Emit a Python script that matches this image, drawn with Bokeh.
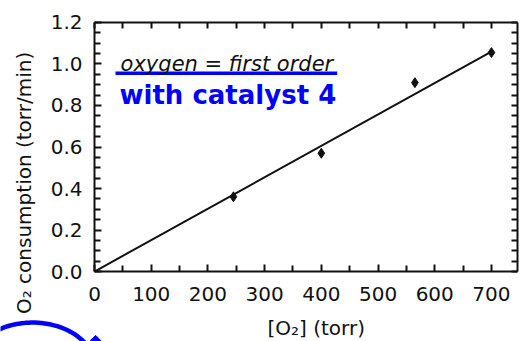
import numpy as np
from bokeh.plotting import figure
from bokeh.models import (Range1d, LinearAxis, Label, PolyAnnotation,
                          FixedTicker, PrintfTickFormatter)
from bokeh.embed import file_html
from bokeh.resources import INLINE

# measured O2 consumption vs O2 pressure
o2_torr = [245, 400, 565, 700]
rate = [0.36, 0.57, 0.91, 1.055]

# first-order fit through the origin
fit_x = [0, 700]
fit_y = [0, 1.06]

# axis ticks
x_major = [0, 100, 200, 300, 400, 500, 600, 700]
x_minor = [50, 150, 250, 350, 450, 550, 650]
y_major = [0.0, 0.2, 0.4, 0.6, 0.8, 1.0, 1.2]
y_minor = [0.05, 0.1, 0.15, 0.25, 0.3, 0.35, 0.45, 0.5, 0.55, 0.65, 0.7, 0.75,
           0.85, 0.9, 0.95, 1.05, 1.1, 1.15]

X_END, Y_END = 746, 1.2

FONT = "DejaVu Sans"
INK = "#111111"
BLUE = "#0000ff"

# the frame fills the canvas; the plot box is drawn by four axes pinned
# to the edges of the data area, leaving room for titles and notes
p = figure(width=524, height=341,
           x_range=Range1d(-165.8, 758.3), y_range=Range1d(-0.3373, 1.306),
           output_backend="svg", toolbar_location=None, min_border=0)
p.background_fill_color = "white"
p.border_fill_color = "white"
p.outline_line_color = None
p.grid.visible = False


def style_axis(ax, loc, bounds):
    ax.fixed_location = loc
    ax.bounds = bounds
    ax.axis_line_color = INK
    ax.axis_line_width = 2
    ax.major_tick_in = 7
    ax.major_tick_out = 0
    ax.minor_tick_in = 6
    ax.minor_tick_out = 0
    ax.major_tick_line_color = INK
    ax.major_tick_line_width = 2
    ax.minor_tick_line_color = INK
    ax.minor_tick_line_width = 2
    ax.major_label_text_font = FONT
    ax.major_label_text_color = INK
    ax.major_label_text_font_size = "20px"


p.xaxis.ticker = FixedTicker(ticks=x_major, minor_ticks=x_minor)
p.yaxis.ticker = FixedTicker(ticks=y_major, minor_ticks=y_minor)
p.yaxis.formatter = PrintfTickFormatter(format="%.1f")
style_axis(p.xaxis[0], 0, (0, X_END))
style_axis(p.yaxis[0], 0, (0, Y_END))
p.xaxis.major_label_standoff = 15
p.yaxis.major_label_standoff = 12

# mirrored tick marks on the top and right edges (no labels)
top_axis = LinearAxis(ticker=FixedTicker(ticks=[], minor_ticks=sorted(x_major + x_minor)))
style_axis(top_axis, Y_END, (0, X_END))
p.add_layout(top_axis, "above")
right_axis = LinearAxis(ticker=FixedTicker(ticks=[], minor_ticks=sorted(y_major + y_minor)))
style_axis(right_axis, X_END, (0, Y_END))
p.add_layout(right_axis, "right")

# fit line and data points
p.line(fit_x, fit_y, line_color=INK, line_width=2)
p.scatter(o2_torr, rate, marker="diamond", size=10, color=INK)

# axis titles
p.add_layout(Label(x=-125, y=0.427, text="O₂ consumption (torr/min)", angle=np.pi / 2,
                   text_align="center", text_baseline="middle",
                   text_font=FONT, text_font_size="20px", text_color=INK))
p.add_layout(Label(x=391, y=-0.27, text="[O₂] (torr)",
                   text_align="center", text_baseline="middle",
                   text_font=FONT, text_font_size="20px", text_color=INK))

# in-plot notes
p.add_layout(Label(x=46, y=1.0, text="oxygen = first order",
                   text_font=FONT, text_font_style="italic", text_font_size="21px",
                   text_color=INK, text_baseline="alphabetic"))
p.segment(x0=[37], y0=[0.955], x1=[428], y1=[0.955], line_color=BLUE, line_width=3.5)
p.add_layout(Label(x=44, y=0.851, text="with catalyst 4",
                   text_font=FONT, text_font_style="bold", text_font_size="26px",
                   text_color=BLUE, text_baseline="alphabetic"))

# blue circled mark in the lower-left corner
t = np.linspace(0, 2 * np.pi, 120)
cx, cy, rx, ry = -109.3, -0.458, 109.3, 0.212
p.add_layout(PolyAnnotation(xs=list(cx + rx * np.cos(t)), ys=list(cy + ry * np.sin(t)),
                            fill_alpha=0, line_color=BLUE, line_alpha=1, line_width=4.5))
p.add_layout(PolyAnnotation(xs=[-9.0, 2.0, 12.5, 12.5, -9.0], ys=[-0.3373, -0.308, -0.3373, -0.45, -0.45],
                            fill_color=BLUE, fill_alpha=1, line_color=BLUE, line_alpha=1,
                            line_width=1))

open("out.html", "w").write(file_html(p, INLINE))
